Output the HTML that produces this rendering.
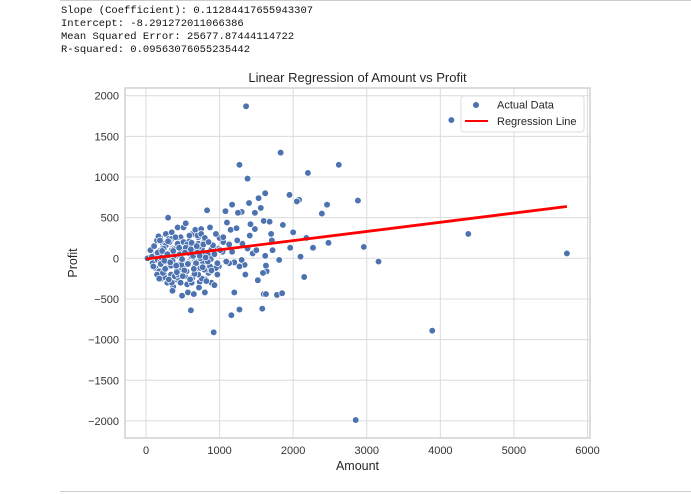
<!DOCTYPE html>
<html><head><meta charset="utf-8"><style>
body{margin:0;background:#fff;width:691px;height:494px;overflow:hidden;position:relative;font-family:"Liberation Sans",sans-serif}
#out{position:absolute;left:61px;top:5px;font-family:"Liberation Mono",monospace;font-size:10.5px;line-height:13px;color:#111;white-space:pre}
</style></head><body>
<div style="position:absolute;left:60px;top:0;width:631px;height:1px;background:#ccc"></div>
<div id="out">Slope (Coefficient): 0.11284417655943307
Intercept: -8.291272011066386
Mean Squared Error: 25677.87444114722
R-squared: 0.09563076055235442</div>
<svg id="c" width="691" height="494" style="position:absolute;left:0;top:0" font-family="Liberation Sans, sans-serif"></svg>
<div style="position:absolute;left:60px;top:491px;width:631px;height:1px;background:#ccc"></div>
<script>
const xTicks=[0,1000,2000,3000,4000,5000,6000];
const yTicks=[-2000,-1500,-1000,-500,0,500,1000,1500,2000];
const amounts=[1360,4150,1830,2620,1270,2200,1380,1950,2080,2050,1620,1530,1400,2460,2880,2390,1170,1080,1300,1250,1560,1600,1480,1680,2000,2180,2270,2480,2960,3160,4380,5720,3890,2850,920,1160,1270,1580,610,1780,1600,1630,1850,1200,1340,2100,2150,1520,1640,1630,1620,1860,1960,1720,1100,1050,1150,1230,1420,1700,1380,1450,1300,1270,1200,1310,1000,990,1040,1130,1240,1350,1480,1590,1710,1810,1500,1410,
20,60,90,110,130,150,170,190,210,230,250,270,290,310,330,350,370,390,410,430,450,470,490,510,530,550,570,590,610,630,650,670,690,710,730,750,770,790,810,830,850,870,890,910,930,950,970,
100,140,180,220,260,300,340,380,420,460,500,540,580,620,660,700,740,780,820,860,900,940,980,
120,160,200,240,280,320,360,400,440,480,520,560,600,640,680,720,760,800,840,880,920,
80,230,350,470,590,710,830,950,170,290,410,530,650,770,890,
200,320,440,560,680,800,380,500,620,740,860,260,560,760,
300,430,620,720,800,540,360,250,450,680,820,700,590,480,350,
150,190,230,270,310,350,390,430,470,510,550,590,630,670,710,750,790,830,870,910,
160,200,240,280,320,360,400,440,480,520,560,600,640,680,720,760,800,840,
180,220,260,300,340,380,420,460,500,540,580,620,660,700,740,780,
210,250,290,330,370,410,450,490,530,570,610,650,690,730,770,810,850,890,930,970,1010,1050,1090,1130,1170];
const profits=[1870,1700,1300,1150,1150,1050,980,780,720,700,800,740,680,660,710,550,660,580,570,560,620,460,560,450,320,250,130,190,140,-40,300,60,-890,-1990,-910,-700,-630,-620,-640,-450,-440,-440,-430,-420,-80,20,-230,-270,-160,-90,30,410,130,100,440,200,350,370,420,300,120,60,-20,-100,-50,180,250,-100,80,-60,220,-200,360,-180,220,-20,100,280,
0,100,-60,150,-120,220,-180,260,-250,180,-200,300,-300,240,-80,320,-350,120,-260,380,-100,260,-460,380,-220,140,-420,210,-300,300,-440,350,-150,260,-290,360,-100,200,-260,590,-180,380,-300,150,-330,300,-200,
-100,60,-160,40,-60,-20,-200,80,-140,40,-100,80,-40,20,-80,60,-60,40,-20,-100,60,-120,120,
40,-20,100,-60,160,-40,120,-80,200,-20,100,-60,160,-40,60,-20,120,-80,40,-10,140,
20,130,100,-150,60,180,-60,-120,270,-90,30,90,-200,-40,110,
-40,60,-80,-160,80,-120,30,-180,-60,0,-140,-40,-320,-250,
500,-240,-300,-360,-420,430,-400,-230,180,150,-280,280,-60,-80,-300,
-200,220,-180,160,-260,240,-220,180,-300,200,-160,280,-240,120,-200,300,-140,220,-100,160,
70,-70,120,-120,200,-30,260,-200,90,-150,170,-260,30,-60,140,-110,250,-40,
-250,90,-130,210,-90,110,-170,50,-220,130,-60,190,-190,70,-120,170,
10,-30,50,-50,90,-90,130,-10,70,-70,110,-130,150,30,-110,10,200,-150,50,-60,100,260,-40,170,80];
const xMin=0,xMax=6000,yMin=-2000,yMax=2000;
const slope=0.11284417655943307, intercept=-8.291272011066386;
const lineX=[0,5720];
const NS='http://www.w3.org/2000/svg', svg=document.getElementById('c');
const X=v=>146+(v-xMin)/(xMax-xMin)*441.5;
const Y=v=>420.9-(v-yMin)/(yMax-yMin)*325.2;
function mk(t,a,p){const e=document.createElementNS(NS,t);for(const k in a)e.setAttribute(k,a[k]);(p||svg).appendChild(e);return e;}
const L=125,R=590,T=88,B=438;
const gg=mk('g',{});


xTicks.forEach(t=>{mk('line',{x1:X(t),x2:X(t),y1:T,y2:B,stroke:'#dcdcdc','stroke-width':1},gg);
 const tx=mk('text',{x:X(t),y:B+16,'text-anchor':'middle','font-size':11,fill:'#333'});tx.textContent=t;
 
 });
yTicks.forEach(t=>{mk('line',{x1:L,x2:R,y1:Y(t),y2:Y(t),stroke:'#dcdcdc','stroke-width':1},gg);
 const tx=mk('text',{x:L-6,y:Y(t)+4,'text-anchor':'end','font-size':11,fill:'#333'});tx.textContent=String(t).replace('-','\u2212');
 
 });
const fr=mk('rect',{x:L,y:T,width:R-L,height:B-T,fill:'none',stroke:'#d0d0d0','stroke-width':1.5});


const pg=mk('g',{});


amounts.forEach((a,i)=>{const c=mk('circle',{cx:X(a),cy:Y(profits[i]),r:3.3,fill:'#4c72b0',stroke:'#fff','stroke-width':0.7},pg);
 
 });
const rl=mk('line',{x1:X(lineX[0]),y1:Y(slope*lineX[0]+intercept),x2:X(lineX[1]),y2:Y(slope*lineX[1]+intercept),stroke:'#f00','stroke-width':2.8});


const ti=mk('text',{x:357.5,y:82,'text-anchor':'middle','font-size':13,fill:'#262626'});ti.textContent='Linear Regression of Amount vs Profit';


const xl=mk('text',{x:357.5,y:470,'text-anchor':'middle','font-size':12.5,fill:'#262626'});xl.textContent='Amount';


const yl=mk('text',{x:77,y:263,'text-anchor':'middle','font-size':12.5,fill:'#262626',transform:'rotate(-90 77 263)'});yl.textContent='Profit';


const lg=mk('g',{});


mk('rect',{x:461,y:96,width:123,height:36,rx:3,fill:'#fff','fill-opacity':0.85,stroke:'#ddd'},lg);
mk('circle',{cx:476,cy:105,r:3,fill:'#4c72b0'},lg);
const l1=mk('text',{x:497,y:108.5,'font-size':11,fill:'#262626'},lg);l1.textContent='Actual Data';


mk('line',{x1:465,x2:488,y1:121,y2:121,stroke:'#f00','stroke-width':2},lg);
const l2=mk('text',{x:497,y:125,'font-size':11,fill:'#262626'},lg);l2.textContent='Regression Line';


</script>
</body></html>
